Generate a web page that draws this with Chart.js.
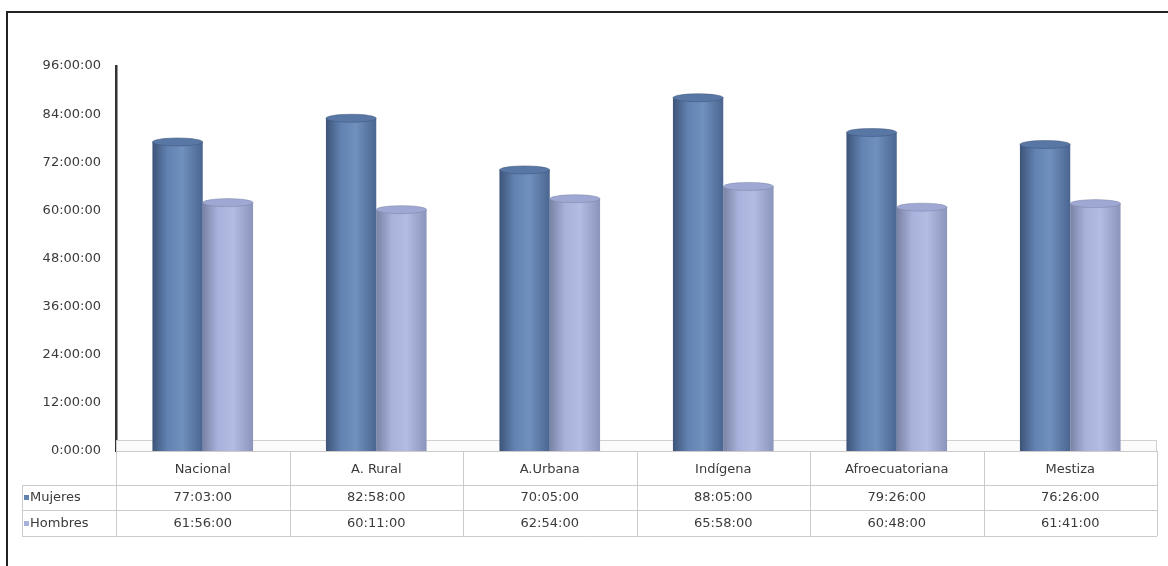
<!DOCTYPE html>
<html>
<head>
<meta charset="utf-8">
<script src="https://cdn.jsdelivr.net/npm/chart.js@4.4.0/dist/chart.umd.min.js"></script>
<style>
  html, body { margin: 0; padding: 0; background: #fff; }
  canvas { display: block; }
</style>
</head>
<body>
<canvas id="grafico" width="1168" height="566"></canvas>
<script>
const categorias = ['Nacional', 'A. Rural', 'A.Urbana', 'Indígena', 'Afroecuatoriana', 'Mestiza'];
const mujeres = ['77:03:00', '82:58:00', '70:05:00', '88:05:00', '79:26:00', '76:26:00'];
const hombres = ['61:56:00', '60:11:00', '62:54:00', '65:58:00', '60:48:00', '61:41:00'];
const etiquetasY = ['0:00:00', '12:00:00', '24:00:00', '36:00:00', '48:00:00', '60:00:00', '72:00:00', '84:00:00', '96:00:00'];
const series = ['Mujeres', 'Hombres'];

// "hh:mm:ss" -> horas
function aHoras(t) {
  const [h, m, s] = t.split(':').map(Number);
  return h + m / 60 + s / 3600;
}

const fuente = '"DejaVu Sans", Arial, sans-serif';
const catPct = 0.58;

// Colores del cilindro: borde, centro, brillo, borde derecho
const tonos = [
  ['#3d5478', '#6282b2', '#7090bd', '#4a6590'],
  ['#7a82a4', '#a7b1da', '#b3bde3', '#8b94ba']
];
const tapas = ['#5877a4', '#9ea8d2'];

function gradiente(ctx) {
  const chart = ctx.chart;
  const xs = chart.scales.x;
  const t = tonos[ctx.datasetIndex];
  if (!xs || !chart.chartArea) return t[1];
  const catW = (chart.chartArea.right - chart.chartArea.left) / categorias.length;
  const grupo = catW * catPct;
  const barW = grupo / 2;
  const izq = xs.getPixelForValue(ctx.dataIndex) - grupo / 2 + ctx.datasetIndex * barW;
  const g = chart.ctx.createLinearGradient(izq, 0, izq + barW, 0);
  g.addColorStop(0, t[0]);
  g.addColorStop(0.3, t[1]);
  g.addColorStop(0.6, t[2]);
  g.addColorStop(1, t[3]);
  return g;
}

// Marco, piso, tapas de cilindro y tabla de datos
const decoracion = {
  id: 'decoracion',
  beforeDraw(chart) {
    const c = chart.ctx;
    c.save();
    c.fillStyle = '#fff';
    c.fillRect(0, 0, chart.width, chart.height);
    c.strokeStyle = '#222';
    c.lineWidth = 2;
    c.beginPath();
    c.moveTo(7, chart.height);
    c.lineTo(7, 12);
    c.lineTo(chart.width, 12);
    c.stroke();
    c.restore();
  },
  beforeDatasetsDraw(chart) {
    const c = chart.ctx;
    const a = chart.chartArea;
    c.save();
    c.fillStyle = '#fbfbfb';
    c.strokeStyle = '#d4d0d0';
    c.lineWidth = 1;
    c.fillRect(a.left, a.bottom - 11, a.right - a.left, 11);
    c.strokeRect(a.left + 0.5, a.bottom - 10.5, a.right - a.left - 1, 11);
    c.restore();
  },
  afterDatasetsDraw(chart) {
    const c = chart.ctx;
    c.save();
    chart.data.datasets.forEach((ds, i) => {
      chart.getDatasetMeta(i).data.forEach(el => {
        const p = el.getProps(['x', 'y', 'width'], true);
        c.beginPath();
        c.ellipse(p.x, p.y, p.width / 2, 4, 0, 0, Math.PI * 2);
        c.fillStyle = tapas[i];
        c.fill();
        c.strokeStyle = tonos[i][0];
        c.lineWidth = 0.5;
        c.stroke();
      });
    });
    c.restore();
  },
  afterDraw(chart) {
    const c = chart.ctx;
    const a = chart.chartArea;
    const xs = chart.scales.x;
    const catW = (a.right - a.left) / categorias.length;
    const yTop = a.bottom, yHead = 485, yRow1 = 510, yRow2 = 536, xIzq = 22;
    c.save();
    c.strokeStyle = '#cfcaca';
    c.lineWidth = 1;
    c.beginPath();
    // horizontales
    c.moveTo(a.left, yTop + 0.5); c.lineTo(a.right, yTop + 0.5);
    [yHead, yRow1, yRow2].forEach(y => { c.moveTo(xIzq, y + 0.5); c.lineTo(a.right, y + 0.5); });
    // verticales
    c.moveTo(xIzq + 0.5, yHead); c.lineTo(xIzq + 0.5, yRow2);
    for (let i = 0; i <= categorias.length; i++) {
      const x = Math.round(a.left + i * catW) + 0.5;
      c.moveTo(x, yTop); c.lineTo(x, yRow2);
    }
    c.stroke();

    c.font = '13px ' + fuente;
    c.fillStyle = '#3a3a3a';
    c.textAlign = 'center';
    c.textBaseline = 'middle';
    categorias.forEach((cat, i) => {
      const x = xs.getPixelForValue(i);
      c.fillText(cat, x, 470);
      c.fillText(mujeres[i], x, 498);
      c.fillText(hombres[i], x, 524);
    });
    // leyenda en la tabla
    c.textAlign = 'left';
    [498, 524].forEach((y, i) => {
      c.fillStyle = tonos[i][1];
      c.fillRect(24, y - 3, 5, 5);
      c.fillStyle = '#3a3a3a';
      c.fillText(series[i], 30, y);
    });
    c.restore();
  }
};

new Chart(document.getElementById('grafico'), {
  type: 'bar',
  data: {
    labels: categorias,
    datasets: [
      { label: series[0], data: mujeres.map(aHoras), backgroundColor: gradiente },
      { label: series[1], data: hombres.map(aHoras), backgroundColor: gradiente }
    ]
  },
  options: {
    responsive: false,
    animation: false,
    layout: { padding: { top: 66, left: 0, right: 11, bottom: 115 } },
    datasets: { bar: { categoryPercentage: catPct, barPercentage: 1.0, borderWidth: 0 } },
    plugins: { legend: { display: false }, tooltip: { enabled: false } },
    scales: {
      x: { display: false },
      y: {
        min: 0,
        max: 96,
        afterFit: s => { s.width = 116; },
        ticks: {
          stepSize: 12,
          padding: 15,
          color: '#3a3a3a',
          font: { family: fuente, size: 13 },
          callback: v => etiquetasY[Math.round(v / 12)]
        },
        grid: { display: false, drawTicks: false },
        border: { display: true, color: '#333', width: 2.5 }
      }
    }
  },
  plugins: [decoracion]
});
</script>
</body>
</html>
